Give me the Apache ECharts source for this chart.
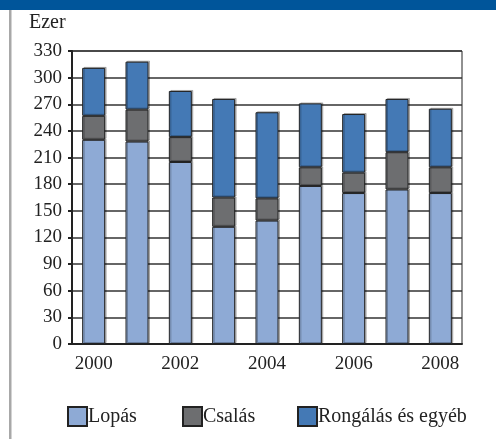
<!DOCTYPE html>
<html>
<head>
<meta charset="utf-8">
<script src="https://cdn.jsdelivr.net/npm/echarts@6/dist/echarts.min.js"></script>
<style>
  html, body { margin: 0; padding: 0; background: #fff; }
  #chart { width: 496px; height: 439px; }
</style>
</head>
<body>
<div id="chart"></div>
<script>
// évek és értékek (ezer)
var years = ['2000', '2001', '2002', '2003', '2004', '2005', '2006', '2007', '2008'];
var lopas = [230, 228, 205, 132, 139, 178, 170, 174, 170];
var csalas = [27, 36, 28, 33, 25, 21, 23, 42, 29];
var rongalas = [54, 54, 52, 111, 97, 72, 66, 60, 66];
var seriesNames = ['Lopás', 'Csalás', 'Rongálás és egyéb'];
var colors = ['#8eaad5', '#6d6e70', '#4479b5'];

var font = '"Liberation Serif", "Times New Roman", "DejaVu Serif", serif';
var fs = 19;
var chart = echarts.init(document.getElementById('chart'));

function bar(name, data, color) {
    return {
        name: name,
        type: 'bar',
        stack: 'total',
        barWidth: 23,
        data: data,
        itemStyle: {
            color: color,
            borderColor: '#222',
            borderWidth: 1,
            shadowColor: 'rgba(0,0,0,0.25)',
            shadowOffsetX: 1.5,
            shadowOffsetY: -1
        }
    };
}

// egy jelmagyarázat-elem
function leg(name, x) {
    return {
        left: x,
        top: 406,
        padding: 0,
        icon: 'rect',
        itemWidth: 19,
        itemHeight: 19,
        textStyle: { fontFamily: font, fontSize: 20, color: '#222', padding: [0, 0, 0, -4] },
        data: [name]
    };
}

chart.setOption({
    animation: false,
    textStyle: { fontFamily: font, color: '#222' },
    graphic: [
        { type: 'rect', left: 0, top: 0, shape: { width: 496, height: 10 }, style: { fill: '#00559a' } },
        { type: 'rect', left: 9, top: 10, shape: { width: 2.5, height: 429 }, style: { fill: '#a8a8a8' } },
        { type: 'text', left: 29, top: 13, style: { text: 'Ezer', fontFamily: font, fontSize: 20, fill: '#222' } }
    ],
    grid: {
        left: 72, top: 51, right: 34, bottom: 95,
        show: true, borderColor: '#222', borderWidth: 1
    },
    legend: [
        leg(seriesNames[0], 67),
        leg(seriesNames[1], 182),
        leg(seriesNames[2], 297)
    ],
    xAxis: {
        type: 'category',
        data: years,
        axisLine: { lineStyle: { color: '#222', width: 2 } },
        axisTick: { interval: 0, length: 5, lineStyle: { color: '#222', width: 2 } },
        axisLabel: { interval: 1, fontFamily: font, fontSize: fs, color: '#222', margin: 11 }
    },
    yAxis: {
        type: 'value',
        min: 0,
        max: 330,
        interval: 30,
        axisLine: { show: true, lineStyle: { color: '#222', width: 2 } },
        axisTick: { show: true, length: 4, lineStyle: { color: '#222', width: 2 } },
        axisLabel: { fontFamily: font, fontSize: fs, color: '#222', margin: 10 },
        splitLine: { lineStyle: { color: '#333', width: 1.5 } }
    },
    series: [
        bar(seriesNames[0], lopas, colors[0]),
        bar(seriesNames[1], csalas, colors[1]),
        bar(seriesNames[2], rongalas, colors[2])
    ]
});
</script>
</body>
</html>
